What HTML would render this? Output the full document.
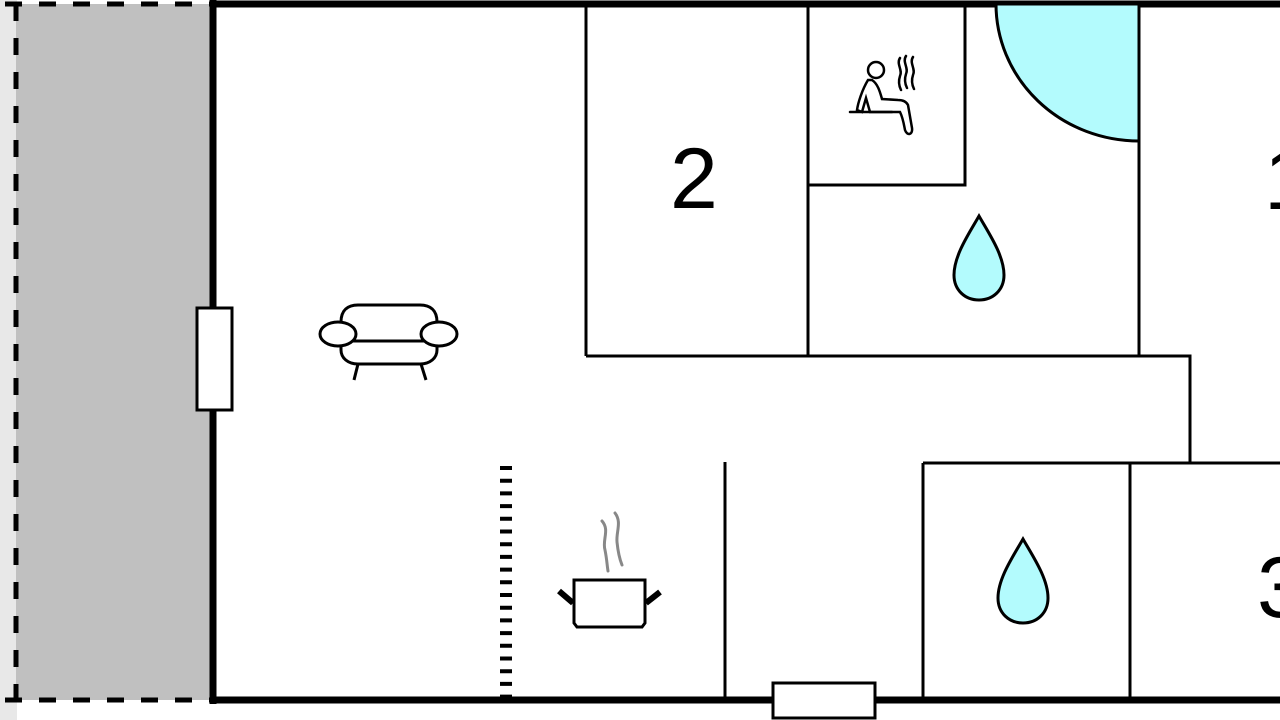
<!DOCTYPE html>
<html><head><meta charset="utf-8"><style>html,body{margin:0;padding:0;background:#fff}svg{display:block}</style></head>
<body>
<svg width="1280" height="720" viewBox="0 0 1280 720" xmlns="http://www.w3.org/2000/svg">
<rect x="0" y="0" width="1280" height="720" fill="#fff"/>
<rect x="0" y="0" width="17" height="720" fill="#e8e8e8"/>
<rect x="16" y="4" width="197" height="696" fill="#c0c0c0"/>
<g stroke="#000" stroke-width="5" fill="none" stroke-dasharray="17,17">
<line x1="5" y1="4" x2="210" y2="4"/>
<line x1="16" y1="4" x2="16" y2="700"/>
<line x1="5" y1="700" x2="210" y2="700"/>
</g>
<g stroke="#000" stroke-width="7" fill="none">
<line x1="210" y1="4" x2="1280" y2="4"/>
<line x1="213" y1="0" x2="213" y2="704"/>
<line x1="210" y1="700" x2="1280" y2="700"/>
</g>
<path d="M996 4 A143 137 0 0 0 1139 141 L1139 4 Z" fill="#b3fbfd" stroke="#000" stroke-width="3"/>
<g stroke="#000" stroke-width="3" fill="none">
<line x1="586" y1="4" x2="586" y2="356"/>
<line x1="808" y1="4" x2="808" y2="356"/>
<polyline points="808,185 965,185 965,4"/>
<line x1="1139" y1="4" x2="1139" y2="356"/>
<polyline points="586,356 1190,356 1190,463"/>
<line x1="923" y1="463" x2="1280" y2="463"/>
<line x1="923" y1="463" x2="923" y2="700"/>
<line x1="1130" y1="463" x2="1130" y2="700"/>
<line x1="725" y1="462" x2="725" y2="700"/>
</g>
<line x1="506" y1="466" x2="506" y2="697" stroke="#000" stroke-width="12" stroke-dasharray="4,8.7"/>
<rect x="197" y="308" width="35" height="102" fill="#fff" stroke="#000" stroke-width="3"/>
<rect x="773" y="683" width="102" height="35" fill="#fff" stroke="#000" stroke-width="3"/>
<g font-family="Liberation Sans, sans-serif" font-size="86" fill="#000">
<text x="670" y="208">2</text>
<text x="1264" y="209">1</text>
<text x="1257" y="617">3</text>
</g>
<g fill="#b3fbfd" stroke="#000" stroke-width="3">
<path d="M979 216 C970 232 954 255 954 275 C954 290 965 300 979 300 C993 300 1004 290 1004 275 C1004 255 988 232 979 216 Z"/>
<path d="M1023 539 C1014 555 998 578 998 598 C998 613 1009 623 1023 623 C1037 623 1048 613 1048 598 C1048 578 1032 555 1023 539 Z"/>
</g>
<!-- sofa -->
<g stroke="#000" stroke-width="3" fill="#fff">
<path d="M341 322 C341 310 348 305 358 305 L420 305 C430 305 437 310 437 322 L437 350 C437 358 430 364 420 364 L358 364 C348 364 341 358 341 350 Z"/>
<line x1="352" y1="341" x2="426" y2="341"/>
<ellipse cx="338" cy="334" rx="18" ry="12"/>
<ellipse cx="439" cy="334" rx="18" ry="12"/>
<line x1="358" y1="364" x2="354" y2="380"/>
<line x1="421" y1="364" x2="426" y2="380"/>
</g>
<!-- sauna -->
<g stroke="#000" stroke-width="2.5" fill="none" stroke-linecap="round">
<circle cx="876" cy="70" r="8"/>
<path d="M868 80 C862 90 858 103 857 110 L862 112 L866 98 L870 112 L900 112 C903 118 904 125 905 130 C907 136 913 135 912 128 L908 105 C906 101 902 100 898 100 L882 99 C880 92 878 84 872 80 Z"/>
<line x1="850" y1="112" x2="892" y2="112"/>
<path d="M900 58 C896 64 903 70 900 76 C898 82 899 86 901 90"/>
<path d="M906 56 C902 62 909 68 906 74 C904 80 905 84 907 88"/>
<path d="M913 57 C909 63 916 69 913 75 C911 81 912 85 914 89"/>
</g>
<!-- pot -->
<g stroke="#000" stroke-width="3" fill="#fff">
<path d="M574 580 L645 580 L645 623 L642 627 L577 627 L574 623 Z"/>
</g>
<g stroke="#000" stroke-width="6" stroke-linecap="butt">
<line x1="559" y1="591" x2="573" y2="603"/>
<line x1="660" y1="592" x2="646" y2="603"/>
</g>
<g stroke="#888" stroke-width="3" fill="none" stroke-linecap="round">
<path d="M602 521 C610 530 602 540 605 550 C607 560 607 565 608 571"/>
<path d="M615 513 C622 522 616 532 617 542 C618 552 620 560 622 565"/>
</g>
</svg>
</body></html>
